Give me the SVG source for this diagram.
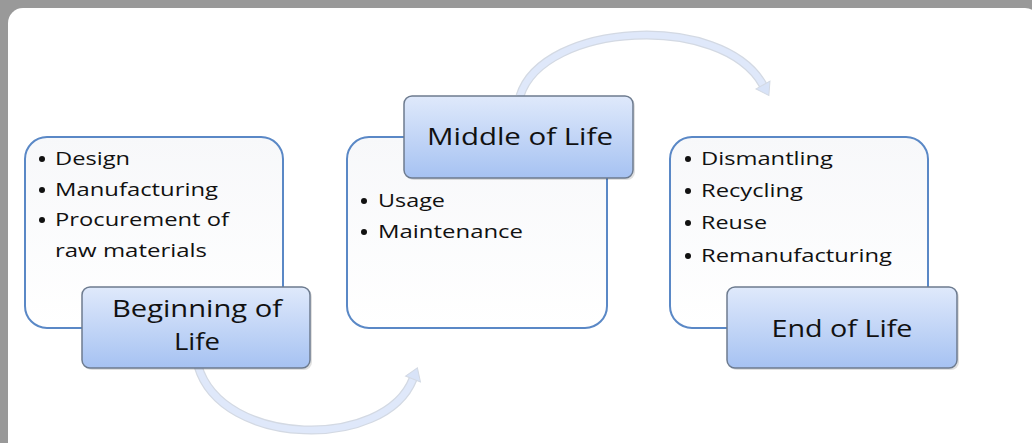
<svg xmlns="http://www.w3.org/2000/svg" width="1032" height="443" viewBox="0 0 1032 443">
<style>
.content{fill:url(#cg);stroke:#5a88c6;stroke-width:2}
.label{fill:url(#lg);stroke:#6d7b8f;stroke-width:1.5}
.shadow{fill:#000;opacity:0.12}
.bt{font-family:"Open Sans","Liberation Sans",sans-serif;font-size:19px;fill:#111}
.lt{font-family:"Open Sans","Liberation Sans",sans-serif;font-size:23px;fill:#111;text-anchor:middle}
.dot{fill:#111}
.arc-edge{fill:none;stroke:#d3d9e3;stroke-width:9}
.arc{fill:none;stroke:#dfe8fa;stroke-width:6.5}
</style>
<defs>
<linearGradient id="cg" x1="0" y1="0" x2="0" y2="1">
<stop offset="0" stop-color="#f7f8fa"/>
<stop offset="1" stop-color="#ffffff"/>
</linearGradient>
<linearGradient id="lg" x1="0" y1="0" x2="0" y2="1">
<stop offset="0" stop-color="#dfe9fb"/>
<stop offset="1" stop-color="#a6c2f2"/>
</linearGradient>
<marker id="ah" markerUnits="userSpaceOnUse" markerWidth="16" markerHeight="22" viewBox="-1 -11 16 22" refX="0" refY="0" orient="auto">
<path d="M0,-8 L12,0 L0,8 Z" fill="#d8e3f8" stroke="#d3d9e3" stroke-width="1"/>
</marker>
</defs>
<rect x="0" y="0" width="1032" height="443" fill="#999999"/>
<rect x="8" y="8" width="1032" height="460" rx="15" fill="#ffffff"/>
<g id="connectors">
<path class="arc-edge" d="M520,96 C543,22 722,12 763,85"/>
<path class="arc" d="M520,96 C543,22 722,12 763,85" marker-end="url(#ah)"/>
<path class="arc-edge" d="M198,366 C222,448 385,450 413,379"/>
<path class="arc" d="M198,366 C222,448 385,450 413,379" marker-end="url(#ah)"/>
</g>
<g id="beginning-of-life">
<rect class="content" x="25" y="137" width="258" height="191" rx="22"/>
<circle class="dot" cx="42" cy="159" r="3"/>
<text class="bt" x="55" y="165" textLength="75" lengthAdjust="spacingAndGlyphs">Design</text>
<circle class="dot" cx="42" cy="190" r="3"/>
<text class="bt" x="55" y="196" textLength="163" lengthAdjust="spacingAndGlyphs">Manufacturing</text>
<circle class="dot" cx="42" cy="220" r="3"/>
<text class="bt" x="55" y="226" textLength="174" lengthAdjust="spacingAndGlyphs">Procurement of</text>
<text class="bt" x="55" y="257" textLength="152" lengthAdjust="spacingAndGlyphs">raw materials</text>
<rect class="shadow" x="84" y="289" width="228" height="81" rx="8"/>
<rect class="label" x="82" y="287" width="228" height="81" rx="8"/>
<text class="lt" x="197" y="317" textLength="170" lengthAdjust="spacingAndGlyphs">Beginning of</text>
<text class="lt" x="197" y="350" textLength="46" lengthAdjust="spacingAndGlyphs">Life</text>
</g>
<g id="middle-of-life">
<rect class="content" x="347" y="137" width="260" height="191" rx="22"/>
<circle class="dot" cx="364" cy="201" r="3"/>
<text class="bt" x="378" y="207" textLength="67" lengthAdjust="spacingAndGlyphs">Usage</text>
<circle class="dot" cx="364" cy="232" r="3"/>
<text class="bt" x="378" y="238" textLength="145" lengthAdjust="spacingAndGlyphs">Maintenance</text>
<rect class="shadow" x="406" y="98" width="229" height="82" rx="8"/>
<rect class="label" x="404" y="96" width="229" height="82" rx="8"/>
<text class="lt" x="520" y="145" textLength="186" lengthAdjust="spacingAndGlyphs">Middle of Life</text>
</g>
<g id="end-of-life">
<rect class="content" x="670" y="137" width="258" height="191" rx="22"/>
<circle class="dot" cx="688" cy="159" r="3"/>
<text class="bt" x="701" y="165" textLength="132" lengthAdjust="spacingAndGlyphs">Dismantling</text>
<circle class="dot" cx="688" cy="191" r="3"/>
<text class="bt" x="701" y="197" textLength="102" lengthAdjust="spacingAndGlyphs">Recycling</text>
<circle class="dot" cx="688" cy="223" r="3"/>
<text class="bt" x="701" y="229" textLength="66" lengthAdjust="spacingAndGlyphs">Reuse</text>
<circle class="dot" cx="688" cy="256" r="3"/>
<text class="bt" x="701" y="262" textLength="191" lengthAdjust="spacingAndGlyphs">Remanufacturing</text>
<rect class="shadow" x="729" y="289" width="230" height="81" rx="8"/>
<rect class="label" x="727" y="287" width="230" height="81" rx="8"/>
<text class="lt" x="842" y="337" textLength="141" lengthAdjust="spacingAndGlyphs">End of Life</text>
</g>
</svg>
